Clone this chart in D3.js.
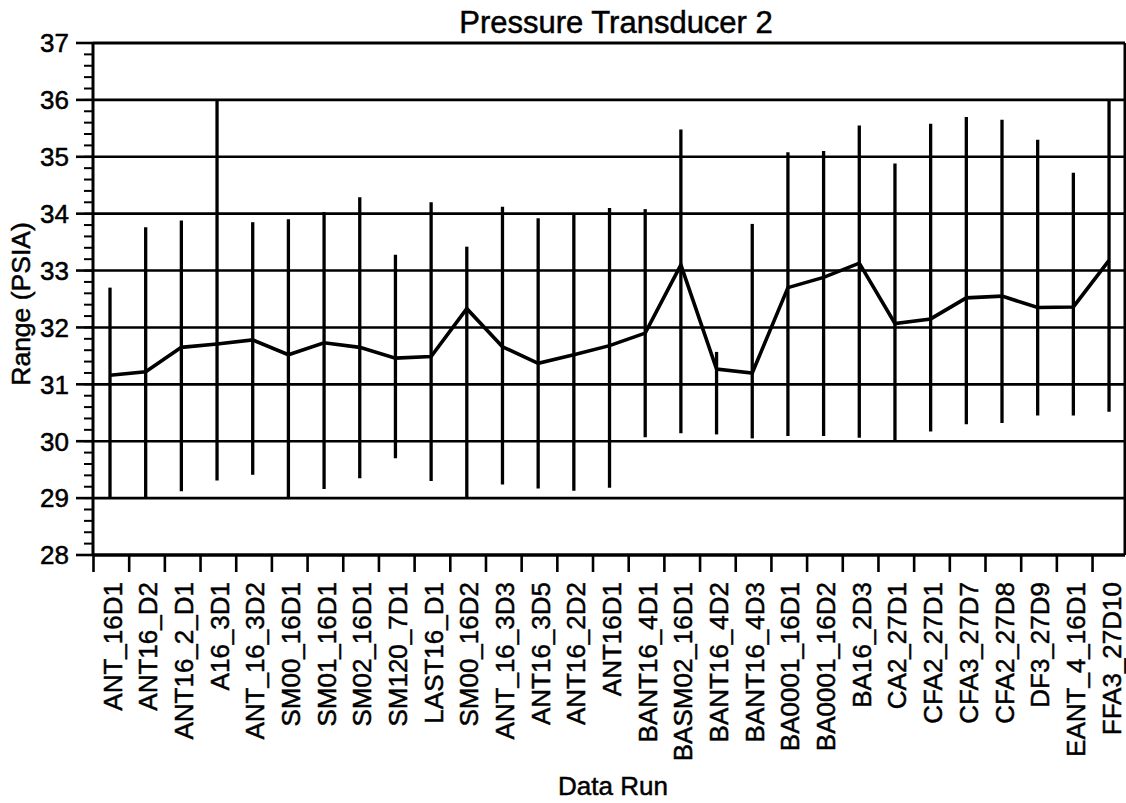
<!DOCTYPE html>
<html>
<head>
<meta charset="utf-8">
<script src="https://cdn.jsdelivr.net/npm/d3@7"></script>
<style>
  html, body { margin: 0; padding: 0; background: #fff; }
  svg { display: block; }
  text { font-family: "Liberation Sans", Arial, Helvetica, sans-serif; fill: #000; stroke: #000; stroke-width: 0.5px; }
</style>
</head>
<body>
<svg id="chart" width="1126" height="803"></svg>
<script>
// Data runs along the x axis
const categories = [
  "ANT_16D1", "ANT16_D2", "ANT16_2_D1", "A16_3D1", "ANT_16_3D2",
  "SM00_16D1", "SM01_16D1", "SM02_16D1", "SM120_7D1", "LAST16_D1",
  "SM00_16D2", "ANT_16_3D3", "ANT16_3D5", "ANT16_2D2", "ANT16D1",
  "BANT16_4D1", "BASM02_16D1", "BANT16_4D2", "BANT16_4D3", "BA0001_16D1",
  "BA0001_16D2", "BA16_2D3", "CA2_27D1", "CFA2_27D1", "CFA3_27D7",
  "CFA2_27D8", "DF3_27D9", "EANT_4_16D1", "FFA3_27D10"
];

// Minimum, maximum and mean pressure (PSIA) for each run
const lows = [
  29.0, 29.0, 29.12, 29.31, 29.41,
  29.0, 29.16, 29.35, 29.7, 29.3,
  29.0, 29.24, 29.17, 29.13, 29.18,
  30.07, 30.14, 30.12, 30.05, 30.09,
  30.09, 30.06, 30.0, 30.17, 30.3,
  30.32, 30.45, 30.45, 30.52
];
const highs = [
  32.7, 33.76, 33.88, 36.0, 33.85,
  33.9, 34.03, 34.29, 33.28, 34.2,
  33.42, 34.12, 33.92, 34.0, 34.1,
  34.08, 35.48, 31.57, 33.82, 35.08,
  35.1, 35.55, 34.88, 35.58, 35.7,
  35.65, 35.3, 34.72, 36.0
];
const means = [
  31.16, 31.22, 31.65, 31.71, 31.78,
  31.52, 31.73, 31.65, 31.46, 31.49,
  32.33, 31.66, 31.37, 31.52, 31.68,
  31.9, 33.1, 31.27, 31.2, 32.7,
  32.88, 33.13, 32.07, 32.15, 32.52,
  32.55, 32.35, 32.36, 33.18
];

const yTicks = [28, 29, 30, 31, 32, 33, 34, 35, 36, 37];
const yMinorTicks = d3.range(28, 37.001, 0.2);

const titleText = "Pressure Transducer 2";
const xTitle = "Data Run";
const yTitle = "Range (PSIA)";

const svg = d3.select("#chart");

const plot = { left: 93, right: 1125, top: 43, bottom: 555 };

const y = d3.scaleLinear().domain([28, 37]).range([plot.bottom, plot.top]);
const x = d3.scaleBand()
  .domain(categories)
  .range([plot.left + 0.5, plot.left + 0.5 + categories.length * 35.68])
  .paddingInner(0).paddingOuter(0);
const barX = c => x(c) + 16.5;

// horizontal grid lines
svg.append("g")
  .selectAll("line")
  .data(yTicks.filter(v => v > 28 && v < 37))
  .join("line")
  .attr("x1", plot.left).attr("x2", plot.right)
  .attr("y1", d => y(d)).attr("y2", d => y(d))
  .attr("stroke", "#000").attr("stroke-width", 2.6);

// frame: top and right edges
svg.append("line")
  .attr("x1", plot.left).attr("x2", plot.right)
  .attr("y1", y(37)).attr("y2", y(37))
  .attr("stroke", "#000").attr("stroke-width", 3.2);
svg.append("line")
  .attr("x1", plot.right).attr("x2", plot.right)
  .attr("y1", y(37)).attr("y2", y(28))
  .attr("stroke", "#000").attr("stroke-width", 3);

// range bars
svg.append("g")
  .selectAll("line")
  .data(categories)
  .join("line")
  .attr("x1", d => barX(d)).attr("x2", d => barX(d))
  .attr("y1", (d, i) => y(lows[i])).attr("y2", (d, i) => y(highs[i]))
  .attr("stroke", "#000").attr("stroke-width", 3.3);

// mean line
svg.append("path")
  .datum(categories)
  .attr("fill", "none")
  .attr("stroke", "#000")
  .attr("stroke-width", 3.6)
  .attr("stroke-linejoin", "miter")
  .attr("d", d3.line().x(d => barX(d)).y((d, i) => y(means[i])));

// y axis: line, major and minor ticks
const yAxis = svg.append("g");
yAxis.append("line")
  .attr("x1", plot.left).attr("x2", plot.left)
  .attr("y1", y(37)).attr("y2", y(28))
  .attr("stroke", "#000").attr("stroke-width", 3);
yAxis.selectAll("line.minor")
  .data(yMinorTicks)
  .join("line")
  .attr("class", "minor")
  .attr("x1", plot.left - 9).attr("x2", plot.left)
  .attr("y1", d => y(d)).attr("y2", d => y(d))
  .attr("stroke", "#000").attr("stroke-width", 2);
yAxis.selectAll("line.major")
  .data(yTicks)
  .join("line")
  .attr("class", "major")
  .attr("x1", plot.left - 17).attr("x2", plot.left)
  .attr("y1", d => y(d)).attr("y2", d => y(d))
  .attr("stroke", "#000").attr("stroke-width", 2.6);
yAxis.selectAll("text")
  .data(yTicks)
  .join("text")
  .attr("x", plot.left - 24)
  .attr("y", d => y(d))
  .attr("dy", "0.36em")
  .attr("text-anchor", "end")
  .attr("font-size", 26)
  .text(d => d);

// x axis: line, ticks and rotated run labels
const xAxis = svg.append("g");
xAxis.append("line")
  .attr("x1", plot.left).attr("x2", plot.right)
  .attr("y1", y(28)).attr("y2", y(28))
  .attr("stroke", "#000").attr("stroke-width", 3.4);
xAxis.selectAll("line.tick")
  .data(categories)
  .join("line")
  .attr("class", "tick")
  .attr("x1", d => x(d)).attr("x2", d => x(d))
  .attr("y1", y(28)).attr("y2", y(28) + 17)
  .attr("stroke", "#000").attr("stroke-width", 2.6);
xAxis.selectAll("text")
  .data(categories)
  .join("text")
  .attr("transform", d => `translate(${barX(d) + 11.5},582) rotate(-90)`)
  .attr("text-anchor", "end")
  .attr("font-size", 26)
  .text(d => d);

// titles
svg.append("text")
  .attr("x", 616).attr("y", 33)
  .attr("text-anchor", "middle")
  .attr("font-size", 31)
  .text(titleText);
svg.append("text")
  .attr("x", 613).attr("y", 795)
  .attr("text-anchor", "middle")
  .attr("font-size", 26)
  .text(xTitle);
svg.append("text")
  .attr("transform", "translate(30,304) rotate(-90)")
  .attr("text-anchor", "middle")
  .attr("font-size", 26.5)
  .text(yTitle);
</script>
</body>
</html>
